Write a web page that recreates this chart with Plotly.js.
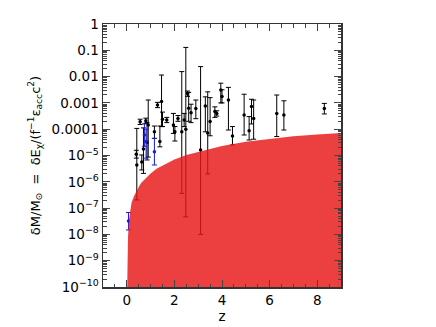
<!DOCTYPE html>
<html>
<head>
<meta charset="utf-8">
<script src="https://cdn.plot.ly/plotly-3.0.1.min.js"></script>
<style>
  html, body { margin: 0; padding: 0; background: #fff; }
  #chart { width: 436px; height: 327px; }
</style>
</head>
<body>
<div id="chart"></div>
<script>
// red region: energy limit vs redshift (exponents of 10)
const curveZ   = [0, 0.01, 0.02, 0.05, 0.1, 0.15, 0.2, 0.3, 0.4, 0.5, 0.6, 0.8, 1.0, 1.25, 1.5, 2, 2.5, 3, 3.5, 4, 5, 6, 7, 8, 9];
const curveExp = [-11, -9.5, -8.9, -8.1, -7.4, -7.0, -6.8, -6.55, -6.35, -6.2, -6.05, -5.85, -5.68, -5.5, -5.38, -5.15, -4.98, -4.85, -4.75, -4.64, -4.48, -4.37, -4.27, -4.2, -4.14];

// black points: z, value, upper end, lower end (exponents of 10)
const blackZ   = [0.42, 0.40, 0.56, 0.63, 0.70, 0.80, 0.85, 0.90, 1.16, 1.29, 1.39, 1.46, 1.50, 1.68, 1.96, 2.02, 2.15, 2.31, 2.41, 2.48, 2.55, 2.60, 2.70, 2.90, 3.10, 3.30, 3.40, 3.50, 3.70, 3.78, 3.95, 4.00, 4.27, 4.44, 4.93, 5.14, 5.24, 5.33, 6.30, 6.60, 8.30];
const blackExp = [-5.36, -4.95, -3.72, -5.25, -4.75, -3.68, -4.50, -3.84, -4.10, -3.08, -4.47, -2.95, -3.62, -3.65, -3.84, -4.10, -3.59, -4.10, -3.65, -4.00, -2.64, -3.20, -3.37, -3.21, -4.79, -3.12, -4.14, -3.71, -3.33, -3.40, -2.51, -2.76, -2.89, -4.26, -3.46, -4.06, -3.14, -3.59, -3.40, -3.46, -3.21];
const blackTop = [-3.97, -4.80, -3.62, -4.98, -3.95, -3.58, -3.75, -2.89, -3.88, -2.98, -3.88, -1.94, -3.35, -3.55, -3.40, -3.90, -3.48, -1.81, -3.40, -0.89, -2.55, -2.60, -3.05, -2.89, -1.62, -2.77, -2.58, -2.80, -3.15, -3.30, -2.25, -2.50, -2.41, -3.90, -2.67, -3.52, -2.86, -2.89, -2.70, -2.92, -3.02];
const blackBot = [-6.69, -5.10, -3.82, -5.55, -5.68, -3.78, -5.17, -5.06, -4.35, -3.18, -4.67, -3.90, -3.90, -3.75, -4.16, -4.45, -3.70, -6.44, -3.90, -7.33, -2.75, -3.70, -3.75, -3.60, -8.00, -4.10, -5.70, -4.25, -3.55, -3.50, -3.00, -3.00, -4.03, -4.60, -4.22, -4.41, -3.80, -4.38, -4.28, -4.03, -3.42];

// blue points
const blueZ   = [0.07, 0.74, 0.81, 1.16];
const blueExp = [-7.49, -4.22, -4.47, -4.86];
const blueTop = [-7.17, -3.80, -4.00, -4.35];
const blueBot = [-7.83, -4.65, -5.10, -5.36];

const yTickExp  = [-10, -9, -8, -7, -6, -5, -4, -3, -2, -1, 0];
const yTickText = ['10<sup>−10</sup>', '10<sup>−9</sup>', '10<sup>−8</sup>', '10<sup>−7</sup>', '10<sup>−6</sup>', '10<sup>−5</sup>', '0.0001', '0.001', '0.01', '0.1', '1'];

const pow = (a) => a.map((e) => Math.pow(10, e));

function pointTrace(z, v, top, bot, color) {
  const y = pow(v);
  const hi = pow(top), lo = pow(bot);
  return {
    x: z,
    y: y,
    type: 'scatter',
    mode: 'markers',
    marker: {color: color, size: 3.5},
    error_y: {
      type: 'data',
      symmetric: false,
      array: hi.map((h, i) => h - y[i]),
      arrayminus: lo.map((l, i) => y[i] - l),
      color: color,
      thickness: 1,
      width: 2.5,
    },
    hoverinfo: 'skip',
  };
}

const limit = {
  x: curveZ,
  y: pow(curveExp),
  type: 'scatter',
  mode: 'lines',
  line: {width: 0, color: 'rgba(232,22,22,0.82)'},
  fill: 'tozeroy',
  fillcolor: 'rgba(232,22,22,0.82)',
  hoverinfo: 'skip',
};

const font = {family: 'DejaVu Sans, sans-serif', size: 13.5, color: '#000'};
const titleFont = {family: 'DejaVu Sans, sans-serif', size: 13, color: '#000'};

const layout = {
  width: 436,
  height: 327,
  margin: {l: 103, r: 95, t: 24, b: 40},
  paper_bgcolor: '#fff',
  plot_bgcolor: '#fff',
  showlegend: false,
  font: font,
  xaxis: {
    range: [-1, 9],
    tickvals: [0, 2, 4, 6, 8],
    ticks: 'inside',
    ticklen: 7,
    tickwidth: 1,
    minor: {dtick: 0.5, ticks: 'inside', ticklen: 3.5, tickwidth: 1, showgrid: false},
    showgrid: false,
    zeroline: false,
    showline: true,
    linecolor: '#333',
    linewidth: 1.5,
    mirror: 'allticks',
    title: {text: 'z', font: font, standoff: 2},
    tickfont: font,
  },
  yaxis: {
    type: 'log',
    range: [-10, 0],
    tickvals: pow(yTickExp),
    ticktext: yTickText,
    ticks: 'inside',
    ticklen: 7,
    tickwidth: 1,
    minor: {dtick: 'D1', ticks: 'inside', ticklen: 3.5, tickwidth: 1, showgrid: false},
    showgrid: false,
    zeroline: false,
    showline: true,
    linecolor: '#333',
    linewidth: 1.5,
    mirror: 'allticks',
    title: {text: 'δM/M<sub>⊙</sub>  =  δE<sub>χ</sub>/(f<sup>−1</sup>ε<sub>acc</sub>c<sup>2</sup>)', font: titleFont, standoff: 8},
    tickfont: font,
  },
};

Plotly.newPlot('chart', [
  pointTrace(blackZ, blackExp, blackTop, blackBot, '#000'),
  pointTrace(blueZ, blueExp, blueTop, blueBot, '#1a1ad8'),
  limit,
], layout, {staticPlot: true, displayModeBar: false});
</script>
</body>
</html>
